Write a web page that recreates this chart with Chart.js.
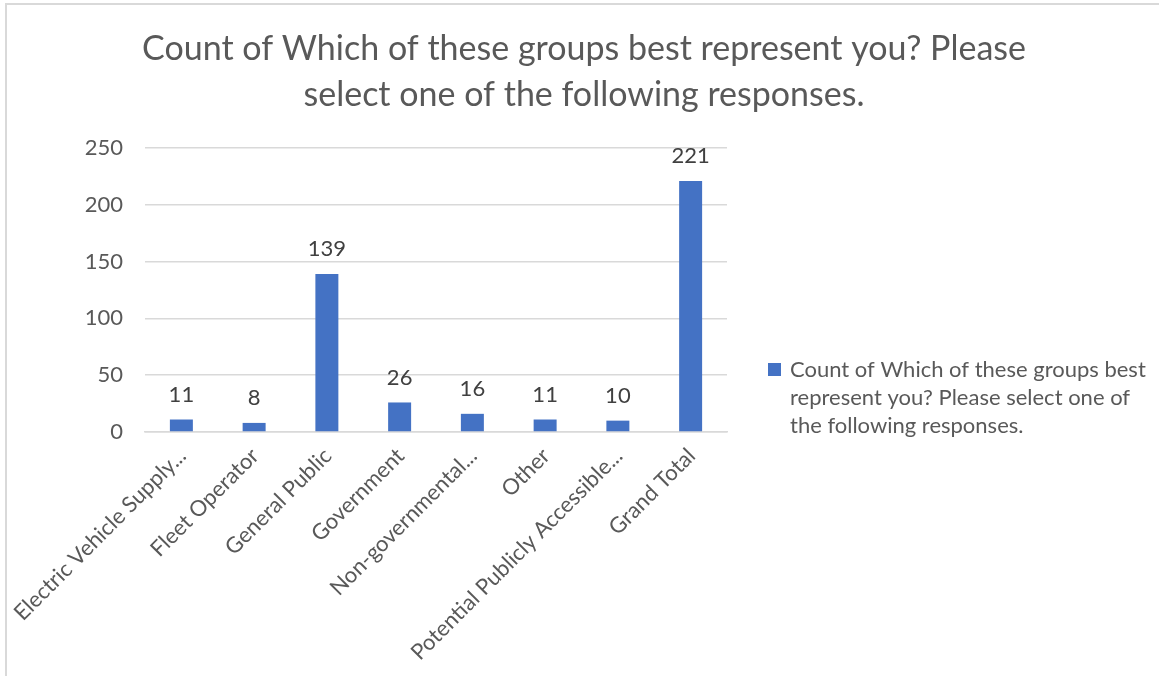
<!DOCTYPE html>
<html>
<head>
<meta charset="utf-8">
<script src="https://cdn.jsdelivr.net/npm/chart.js@4"></script>
<style>
  html, body { margin: 0; padding: 0; background: #fff; }
  #wrap { position: relative; width: 1159px; height: 676px; overflow: hidden; }
  #frame { position: absolute; left: 5px; top: 3px; right: -4px; bottom: -4px;
           border-top: 2px solid #d9d9d9; border-left: 2px solid #d9d9d9; pointer-events: none; }
</style>
</head>
<body>
<div id="wrap">
  <canvas id="chart-groups" width="1159" height="676"></canvas>
  <div id="frame"></div>
</div>
<script>
const categories = [
  'Electric Vehicle Supply...',
  'Fleet Operator',
  'General Public',
  'Government',
  'Non-governmental...',
  'Other',
  'Potential Publicly Accessible...',
  'Grand Total'
];
const counts = [11, 8, 139, 26, 16, 11, 10, 221];
const yTicks = [0, 50, 100, 150, 200, 250];
const titleLines = ['Count of Which of these groups best represent you? Please', 'select one of the following responses.'];
const legendLines = ['Count of Which of these groups best', 'represent you? Please select one of', 'the following responses.'];

const FONT = 'Lato';
const GREY = '#595959';
const BLUE = '#4472C4';

// two-line title centred across the whole frame (not just the plot)
const wideTitle = {
  id: 'wideTitle',
  afterDraw(chart) {
    const ctx = chart.ctx;
    ctx.save();
    ctx.font = '34px ' + FONT;
    ctx.fillStyle = GREY;
    ctx.textAlign = 'center';
    ctx.textBaseline = 'middle';
    titleLines.forEach((line, i) => {
      ctx.fillText(line, 584, 49 + i * 46);
    });
    ctx.restore();
  }
};

// value labels above each bar
const barValues = {
  id: 'barValues',
  afterDatasetsDraw(chart) {
    const ctx = chart.ctx;
    const meta = chart.getDatasetMeta(0);
    ctx.save();
    ctx.font = '22px ' + FONT;
    ctx.fillStyle = '#404040';
    ctx.textAlign = 'center';
    ctx.textBaseline = 'middle';
    meta.data.forEach((bar, i) => {
      ctx.fillText(String(counts[i]), bar.x, bar.y - 25);
    });
    ctx.restore();
  }
};

// legend on the right, wrapped over several lines
const sideLegend = {
  id: 'sideLegend',
  afterDraw(chart) {
    const ctx = chart.ctx;
    const x = chart.chartArea.right + 41;
    const y = 370;
    ctx.save();
    ctx.fillStyle = BLUE;
    ctx.fillRect(x, y - 7, 13, 13);
    ctx.font = '22px ' + FONT;
    ctx.fillStyle = GREY;
    ctx.textAlign = 'left';
    ctx.textBaseline = 'middle';
    legendLines.forEach((line, i) => {
      ctx.fillText(line, x + 22, y + i * 28);
    });
    ctx.restore();
  }
};

const ctx = document.getElementById('chart-groups').getContext('2d');
const groupsChart = new Chart(ctx, {
  type: 'bar',
  data: {
    labels: categories,
    datasets: [{
      label: legendLines.join(' '),
      data: counts,
      backgroundColor: BLUE,
      borderWidth: 0,
      barPercentage: 0.316,
      categoryPercentage: 1
    }]
  },
  options: {
    responsive: false,
    animation: false,
    layout: { padding: { left: 0, right: 432, top: 148, bottom: 0 } },
    plugins: {
      legend: { display: false },
      tooltip: { enabled: false },
      title: { display: false }
    },
    scales: {
      x: {
        grid: { display: false },
        border: { color: '#d9d9d9', width: 1.5 },
        ticks: {
          color: GREY,
          font: { family: FONT, size: 22 },
          minRotation: 45,
          maxRotation: 45,
          autoSkip: false,
          labelOffset: 1,
          padding: 3
        },
        afterFit(scale) { scale.height = 244; }
      },
      y: {
        min: 0,
        max: 250,
        border: { display: false },
        grid: { color: '#d9d9d9', lineWidth: 1.5, drawTicks: false },
        afterBuildTicks(scale) { scale.ticks = yTicks.map(v => ({ value: v })); },
        ticks: {
          color: GREY,
          font: { family: FONT, size: 22 },
          padding: 22
        },
        afterFit(scale) { scale.width = 145; }
      }
    }
  },
  plugins: [wideTitle, barValues, sideLegend]
});
</script>
</body>
</html>
